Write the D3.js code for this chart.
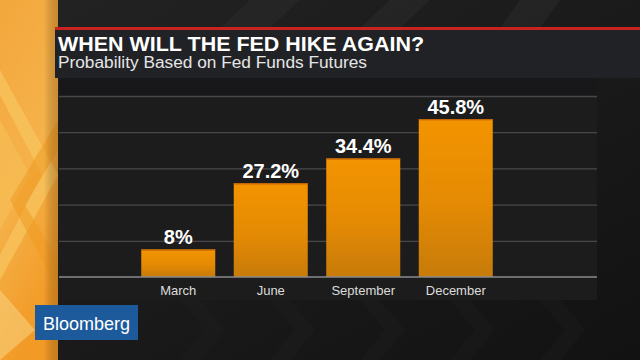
<!DOCTYPE html>
<html>
<head>
<meta charset="utf-8">
<script src="https://cdn.jsdelivr.net/npm/d3@7"></script>
<style>
  html, body { margin: 0; padding: 0; background: #161616; }
  svg { display: block; }
</style>
</head>
<body>
<svg id="chart" width="640" height="360"></svg>
<script>
// ---- data ----
const categories = ["March", "June", "September", "December"];
const probabilities = [8, 27.2, 34.4, 45.8];
const valueLabels = ["8%", "27.2%", "34.4%", "45.8%"];
const gridTicks = [0, 10.5, 21, 31.5, 42, 52.5];
const titleText = "WHEN WILL THE FED HIKE AGAIN?";
const subtitleText = "Probability Based on Fed Funds Futures";
const brandText = "Bloomberg";

const W = 640, H = 360;
const svg = d3.select("#chart");
const defs = svg.append("defs");

// gradients
const bg = defs.append("linearGradient").attr("id", "bg").attr("x1", 0).attr("y1", 0).attr("x2", 1).attr("y2", 1);
bg.append("stop").attr("offset", "0%").attr("stop-color", "#232323");
bg.append("stop").attr("offset", "100%").attr("stop-color", "#121212");

const og = defs.append("linearGradient").attr("id", "orange").attr("x1", 0).attr("y1", 0).attr("x2", 0.3).attr("y2", 1);
og.append("stop").attr("offset", "0%").attr("stop-color", "#f3a73c");
og.append("stop").attr("offset", "55%").attr("stop-color", "#f5b24a");
og.append("stop").attr("offset", "100%").attr("stop-color", "#f29a26");

const barG = defs.append("linearGradient").attr("id", "barGrad").attr("x1", 0).attr("y1", 0).attr("x2", 0).attr("y2", 1);
barG.append("stop").attr("offset", "0%").attr("stop-color", "#f39400");
barG.append("stop").attr("offset", "55%").attr("stop-color", "#e48a04");
barG.append("stop").attr("offset", "100%").attr("stop-color", "#c77b0a");

const edge = defs.append("linearGradient").attr("id", "edge").attr("x1", 0).attr("y1", 0).attr("x2", 1).attr("y2", 0);
edge.append("stop").attr("offset", "0%").attr("stop-color", "#000").attr("stop-opacity", 0);
edge.append("stop").attr("offset", "100%").attr("stop-color", "#7a4a10").attr("stop-opacity", 0.35);

// background
svg.append("rect").attr("width", W).attr("height", H).attr("fill", "url(#bg)");

// subtle diagonal stripes in top area
const stripes = [[250, 0, 300, 0, 270, 28, 220, 28], [390, 0, 430, 0, 400, 28, 360, 28], [520, 0, 560, 0, 540, 28, 500, 28]];
svg.selectAll("polygon.stripe").data(stripes).join("polygon")
  .attr("class", "stripe")
  .attr("points", d => `${d[0]},${d[1]} ${d[2]},${d[3]} ${d[4]},${d[5]} ${d[6]},${d[7]}`)
  .attr("fill", "#2c2c2c").attr("opacity", 0.5);

// bottom chevrons
const chevs = [180, 270, 360, 450, 540];
svg.selectAll("path.chev").data(chevs).join("path")
  .attr("class", "chev")
  .attr("d", d => `M${d},300 L${d + 25},330 L${d},360 L${d + 20},360 L${d + 45},330 L${d + 20},300 Z`)
  .attr("fill", "#222").attr("opacity", 0.3);

// left orange panel
svg.append("rect").attr("x", 0).attr("y", 0).attr("width", 58).attr("height", H).attr("fill", "url(#orange)");
svg.append("path").attr("d", "M0,70 L58,175 L0,280 L0,255 L42,175 L0,95 Z").attr("fill", "#f7c35c").attr("opacity", 0.8);
svg.append("path").attr("d", "M0,120 L30,175 L0,230 Z").attr("fill", "#f6bd55").attr("opacity", 0.7);
svg.append("path").attr("d", "M10,200 L58,120 L58,150 L25,205 L58,260 L58,290 Z").attr("fill", "#ef9a22").attr("opacity", 0.55);
svg.append("path").attr("d", "M0,290 L35,330 L0,360 Z").attr("fill", "#f8cf7a").attr("opacity", 0.6);
svg.append("rect").attr("x", 44).attr("y", 0).attr("width", 14).attr("height", H).attr("fill", "url(#edge)");

// red rule
svg.append("rect").attr("x", 55).attr("y", 27).attr("width", W - 55).attr("height", 3).attr("fill", "#c9231f");

// title band
svg.append("rect").attr("x", 55).attr("y", 30).attr("width", W - 55).attr("height", 48).attr("fill", "#212225");

// chart panel
svg.append("rect").attr("x", 59).attr("y", 78).attr("width", 538).attr("height", 222).attr("fill", "#1c1c1d");
svg.append("rect").attr("x", 59).attr("y", 78).attr("width", 538).attr("height", 18).attr("fill", "#18181a");

// title texts
svg.append("text").attr("x", 58).attr("y", 51)
  .attr("font-family", "Liberation Sans, Arial, sans-serif").attr("font-weight", "bold")
  .attr("font-size", 21).attr("fill", "#ffffff")
  .attr("textLength", 366).attr("lengthAdjust", "spacingAndGlyphs")
  .text(titleText);
svg.append("text").attr("x", 58).attr("y", 68)
  .attr("font-family", "Liberation Sans, Arial, sans-serif")
  .attr("font-size", 16).attr("fill", "#e6e6e6")
  .attr("textLength", 309).attr("lengthAdjust", "spacingAndGlyphs")
  .text(subtitleText);

// scales
const x = d3.scaleBand().domain(categories).range([132, 502]).paddingInner(0.2).paddingOuter(0.1);
const y = d3.scaleLinear().domain([0, 52.5]).range([277, 96]);

// gridlines
const gridAxis = d3.axisLeft(y).tickValues(gridTicks.slice(1)).tickSize(0).tickFormat("");
const gg = svg.append("g").attr("transform", "translate(59,0)").call(gridAxis);
gg.select(".domain").remove();
gg.selectAll(".tick line").attr("x1", 0).attr("x2", 538).attr("stroke", "#48484a").attr("stroke-width", 1.3);

// bars
const data = categories.map((c, i) => ({ c, v: probabilities[i], label: valueLabels[i] }));
svg.selectAll("rect.bar").data(data).join("rect")
  .attr("class", "bar")
  .attr("x", d => x(d.c))
  .attr("y", d => y(d.v))
  .attr("width", x.bandwidth())
  .attr("height", d => y(0) - y(d.v))
  .attr("fill", "url(#barGrad)");
svg.selectAll("rect.bartop").data(data).join("rect")
  .attr("class", "bartop")
  .attr("x", d => x(d.c)).attr("y", d => y(d.v))
  .attr("width", x.bandwidth()).attr("height", 1.2)
  .attr("fill", "#c0620a");

// value labels
svg.selectAll("text.val").data(data).join("text")
  .attr("class", "val")
  .attr("x", d => x(d.c) + x.bandwidth() / 2)
  .attr("y", d => y(d.v) - 5)
  .attr("text-anchor", "middle")
  .attr("font-family", "Liberation Sans, Arial, sans-serif").attr("font-weight", "bold")
  .attr("font-size", 20).attr("fill", "#ffffff")
  .text(d => d.label);

// x axis
const xAxis = d3.axisBottom(x).tickSize(0).tickPadding(9);
const xg = svg.append("g").attr("transform", "translate(0,277)").call(xAxis);
xg.select(".domain").remove();
xg.selectAll("text").attr("font-family", "Liberation Sans, Arial, sans-serif").attr("font-size", 13).attr("fill", "#dcdcdc");
svg.append("line").attr("x1", 59).attr("x2", 597).attr("y1", y(0)).attr("y2", y(0)).attr("stroke", "#8a8a8c").attr("stroke-width", 1.5);

// brand box
svg.append("rect").attr("x", 35).attr("y", 305).attr("width", 103).attr("height", 35).attr("fill", "#1d5a9b");
svg.append("text").attr("x", 43).attr("y", 330)
  .attr("font-family", "Liberation Sans, Arial, sans-serif")
  .attr("font-size", 19).attr("fill", "#ffffff")
  .attr("textLength", 87).attr("lengthAdjust", "spacingAndGlyphs")
  .text(brandText);
</script>
</body>
</html>
